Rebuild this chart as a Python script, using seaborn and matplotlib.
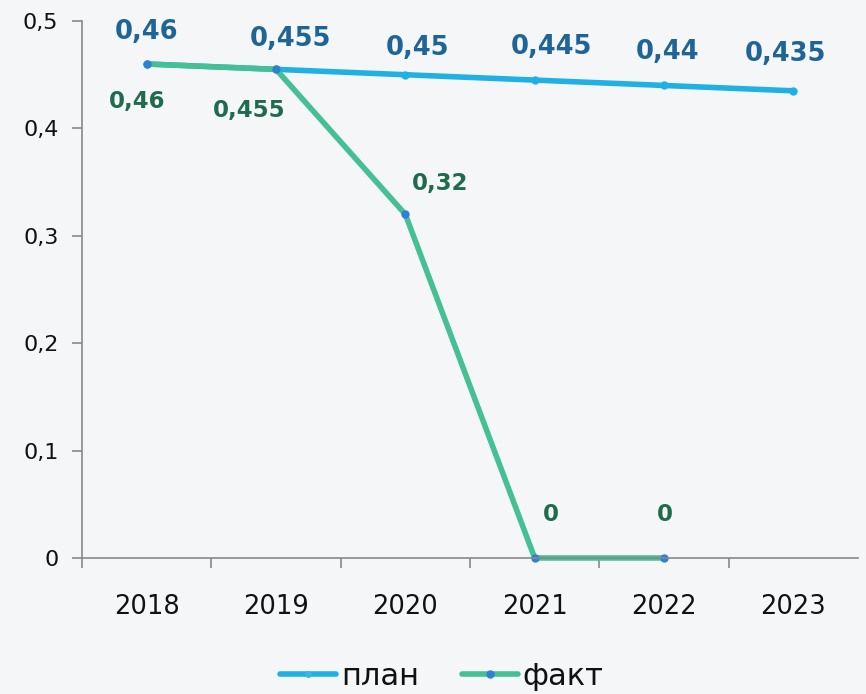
import matplotlib
matplotlib.use("Agg")
import matplotlib.pyplot as plt
import seaborn as sns
import pandas as pd
from matplotlib.lines import Line2D

years = [2018, 2019, 2020, 2021, 2022, 2023]
plan = [0.46, 0.455, 0.45, 0.445, 0.44, 0.435]
fact_years = [2018, 2019, 2020, 2021, 2022]
fact = [0.46, 0.455, 0.32, 0, 0]
plan_labels = ["0,46", "0,455", "0,45", "0,445", "0,44", "0,435"]
fact_labels = ["0,46", "0,455", "0,32", "0", "0"]
y_ticks = [0, 0.1, 0.2, 0.3, 0.4, 0.5]
y_tick_labels = ["0", "0,1", "0,2", "0,3", "0,4", "0,5"]

bg = "#f5f6f8"
plan_color = "#1fb0e6"
fact_color = "#45bf94"
marker_color = "#2e7fd6"
plan_text = "#1f6496"
fact_text = "#1e6b4e"

sns.set_style("white")
plt.rcParams["font.family"] = ["DejaVu Sans"]

df_plan = pd.DataFrame({"year": years, "value": plan})
df_fact = pd.DataFrame({"year": fact_years, "value": fact})

fig = plt.figure(figsize=(8.66, 6.94), dpi=100, facecolor=bg)
ax = fig.add_axes([0.0947, 0.196, 0.8961, 0.7737], facecolor=bg)

sns.lineplot(data=df_plan, x="year", y="value", ax=ax, color=plan_color,
             linewidth=4, marker="o", markersize=6, markerfacecolor=plan_color,
             markeredgewidth=0, clip_on=False)
sns.lineplot(data=df_fact, x="year", y="value", ax=ax, color=fact_color,
             linewidth=4, marker="o", markersize=6, markerfacecolor=marker_color,
             markeredgewidth=0, clip_on=False)

# plan labels above points
plan_offsets = [(0, 32), (14, 30), (12, 27), (17, 33), (3, 33), (-8, 37)]
for x, y, t, (dx, dy) in zip(years, plan, plan_labels, plan_offsets):
    ax.annotate(t, (x, y), xytext=(dx, dy), textcoords="offset pixels",
                ha="center", va="center", fontsize=18.5, fontweight="bold",
                color=plan_text, annotation_clip=False)

# fact labels
fact_offsets = [(-10, -38), (-27, -41), (35, 31), (16, 43), (1, 43)]
for x, y, t, (dx, dy) in zip(fact_years, fact, fact_labels, fact_offsets):
    ax.annotate(t, (x, y), xytext=(dx, dy), textcoords="offset pixels",
                ha="center", va="center", fontsize=16.5, fontweight="bold",
                color=fact_text, annotation_clip=False)

ax.set_xlim(2017.5, 2023.5)
ax.set_ylim(0, 0.5)
ax.set_xticks(years)
ax.set_xticklabels([str(y) for y in years])
ax.set_xticks([y + 0.5 for y in years[:-1]] + [2017.5], minor=True)
ax.set_yticks(y_ticks)
ax.set_yticklabels(y_tick_labels)
ax.tick_params(axis="x", which="major", bottom=True, length=0, pad=26,
               labelsize=18.5, labelcolor="#111111")
ax.tick_params(axis="x", which="minor", bottom=True, length=7, width=1.2,
               color="#888888", direction="out")
ax.tick_params(axis="y", left=True, length=7, width=1.2, color="#888888",
               direction="out", pad=10, labelsize=16, labelcolor="#111111")
ax.set_xlabel("")
ax.set_ylabel("")

for s in ["top", "right"]:
    ax.spines[s].set_visible(False)
for s in ["left", "bottom"]:
    ax.spines[s].set_color("#888888")
    ax.spines[s].set_linewidth(1.2)

handles = [
    Line2D([0], [0], color=plan_color, linewidth=4, marker="o", markersize=5,
           markerfacecolor="#3ab5ea", markeredgewidth=0),
    Line2D([0], [0], color=fact_color, linewidth=4, marker="o", markersize=6,
           markerfacecolor=marker_color, markeredgewidth=0),
]
fig.legend(handles, ["план", "факт"], loc="center", bbox_to_anchor=(0.51, 0.025),
           ncol=2, frameon=False, fontsize=22, handlelength=1.85, handletextpad=0.15,
           columnspacing=1.4, labelcolor="#111111")

fig.savefig("out.png", dpi=100, facecolor=bg)
